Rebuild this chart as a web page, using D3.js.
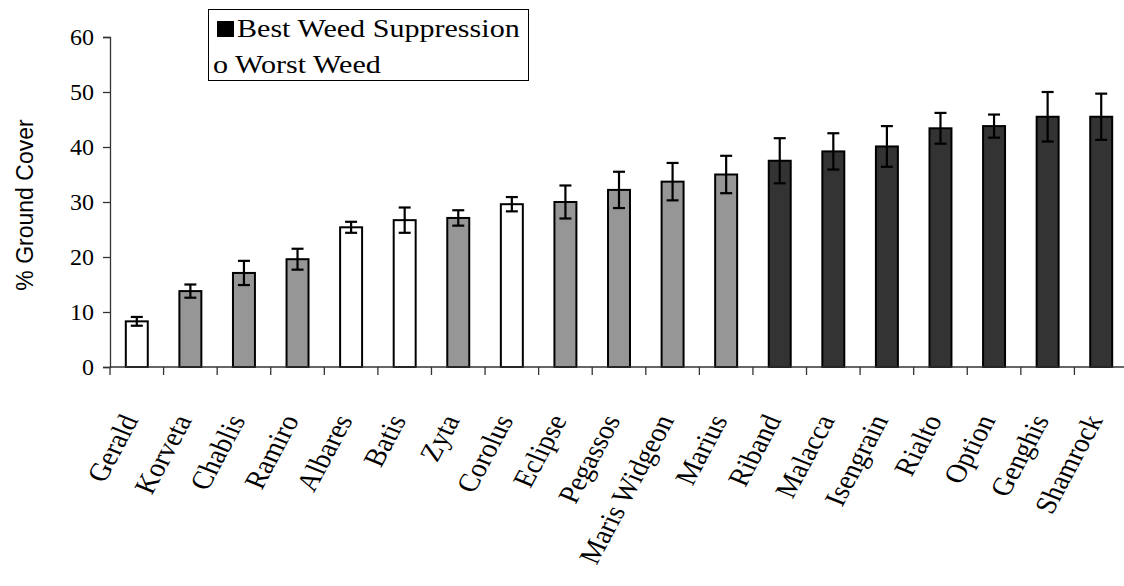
<!DOCTYPE html>
<html>
<head>
<meta charset="utf-8">
<script src="https://cdn.jsdelivr.net/npm/d3@7"></script>
<style>
  body { margin: 0; background: #fff; }
  svg { display: block; }
</style>
</head>
<body>
<svg id="chart" width="1124" height="586"></svg>
<script>
// varieties, sorted by ground cover
const varieties = ["Gerald", "Korveta", "Chablis", "Ramiro", "Albares", "Batis", "Zyta", "Corolus",
  "Eclipse", "Pegassos", "Maris Widgeon", "Marius", "Riband", "Malacca", "Isengrain", "Rialto",
  "Option", "Genghis", "Shamrock"];
const cover = [8.3, 13.8, 17.1, 19.6, 25.4, 26.7, 27.1, 29.6, 30.0, 32.2, 33.7, 35.0, 37.5, 39.2,
  40.1, 43.4, 43.8, 45.5, 45.5];
const coverErr = [0.8, 1.2, 2.2, 1.9, 1.0, 2.3, 1.4, 1.3, 3.0, 3.3, 3.4, 3.4, 4.1, 3.3, 3.7, 2.8,
  2.1, 4.5, 4.2];
// w = worst weed suppression, m = middle, b = best
const group = ["w", "m", "m", "m", "w", "w", "m", "w", "m", "m", "m", "m", "b", "b", "b", "b", "b", "b", "b"];
const yTicks = [0, 10, 20, 30, 40, 50, 60];
const legendItems = ["Best Weed Suppression", "o Worst Weed"];

const fillOf = { w: "#ffffff", m: "#969696", b: "#333333" };
const serif = "'Liberation Serif', 'Times New Roman', serif";
const stretch = 1.15; // text in the picture is a bit wider than tall

const svg = d3.select("#chart");
const plotLeft = 110, plotRight = 1128, plotTop = 37, plotBottom = 367;

const x = d3.scaleBand().domain(varieties).range([plotLeft, plotRight])
  .paddingInner(0.59).paddingOuter(0.295);
const y = d3.scaleLinear().domain([0, 60]).range([plotBottom, plotTop]);

// y axis
const yAxis = svg.append("g").attr("transform", "translate(" + plotLeft + ",0)")
  .call(d3.axisLeft(y).tickValues(yTicks).tickSize(7).tickPadding(9));
yAxis.select(".domain").attr("stroke", "#333").attr("stroke-width", 1.3);
yAxis.selectAll(".tick line").attr("stroke", "#333").attr("stroke-width", 1.3);
yAxis.selectAll(".tick text")
  .style("font-family", serif)
  .attr("font-size", 24).attr("fill", "#000");

svg.append("text")
  .attr("transform", "translate(33," + (y(30) + 3) + ") rotate(-90)")
  .attr("text-anchor", "middle")
  .attr("font-family", "'Liberation Sans', Arial, sans-serif")
  .attr("font-size", 23)
  .text("% Ground Cover");

// bars
const data = varieties.map((v, i) => ({ name: v, val: cover[i], err: coverErr[i], g: group[i] }));

svg.append("g").selectAll("rect").data(data).join("rect")
  .attr("x", d => x(d.name))
  .attr("y", d => y(d.val))
  .attr("width", x.bandwidth())
  .attr("height", d => y(0) - y(d.val))
  .attr("fill", d => fillOf[d.g])
  .attr("stroke", "#000")
  .attr("stroke-width", 2);

// error bars
const eb = svg.append("g").attr("stroke", "#000").attr("stroke-width", 2.2);
const cx = d => x(d.name) + x.bandwidth() / 2;
eb.selectAll("line.v").data(data).join("line").attr("class", "v")
  .attr("x1", cx).attr("x2", cx)
  .attr("y1", d => y(d.val + d.err)).attr("y2", d => y(d.val - d.err));
eb.selectAll("line.t").data(data).join("line").attr("class", "t")
  .attr("x1", d => cx(d) - 6).attr("x2", d => cx(d) + 6)
  .attr("y1", d => y(d.val + d.err)).attr("y2", d => y(d.val + d.err));
eb.selectAll("line.b").data(data).join("line").attr("class", "b")
  .attr("x1", d => cx(d) - 6).attr("x2", d => cx(d) + 6)
  .attr("y1", d => y(d.val - d.err)).attr("y2", d => y(d.val - d.err));

// x axis line and ticks between categories
svg.append("line").attr("x1", plotLeft).attr("x2", 1124)
  .attr("y1", y(0)).attr("y2", y(0))
  .attr("stroke", "#333").attr("stroke-width", 1.3);
svg.append("g").selectAll("line").data(varieties).join("line")
  .attr("x1", d => cx({ name: d }) - x.step() / 2)
  .attr("x2", d => cx({ name: d }) - x.step() / 2)
  .attr("y1", y(0)).attr("y2", y(0) + 8)
  .attr("stroke", "#333").attr("stroke-width", 1.3);

// category labels, slanted
svg.append("g").selectAll("text").data(varieties).join("text")
  .attr("transform", d => "translate(" + (cx({ name: d }) + 2) + "," + (y(0) + 53) + ") scale(" + stretch + ",1) rotate(-65)")
  .attr("text-anchor", "end")
  .attr("font-family", serif)
  .attr("font-size", 26)
  .text(d => d);

// legend
const lg = svg.append("g");
lg.append("rect").attr("x", 208.5).attr("y", 9.5).attr("width", 320).attr("height", 71)
  .attr("fill", "#fff").attr("stroke", "#000").attr("stroke-width", 1);
lg.append("rect").attr("x", 217).attr("y", 21).attr("width", 17).attr("height", 16).attr("fill", "#000");
lg.selectAll("text").data(legendItems).join("text")
  .attr("transform", (d, i) => "translate(" + (i === 0 ? 237 : 213) + "," + (37 + i * 36) + ") scale(1.18,1)")
  .attr("font-family", serif)
  .attr("font-size", 25.5)
  .text(d => d);
</script>
</body>
</html>
